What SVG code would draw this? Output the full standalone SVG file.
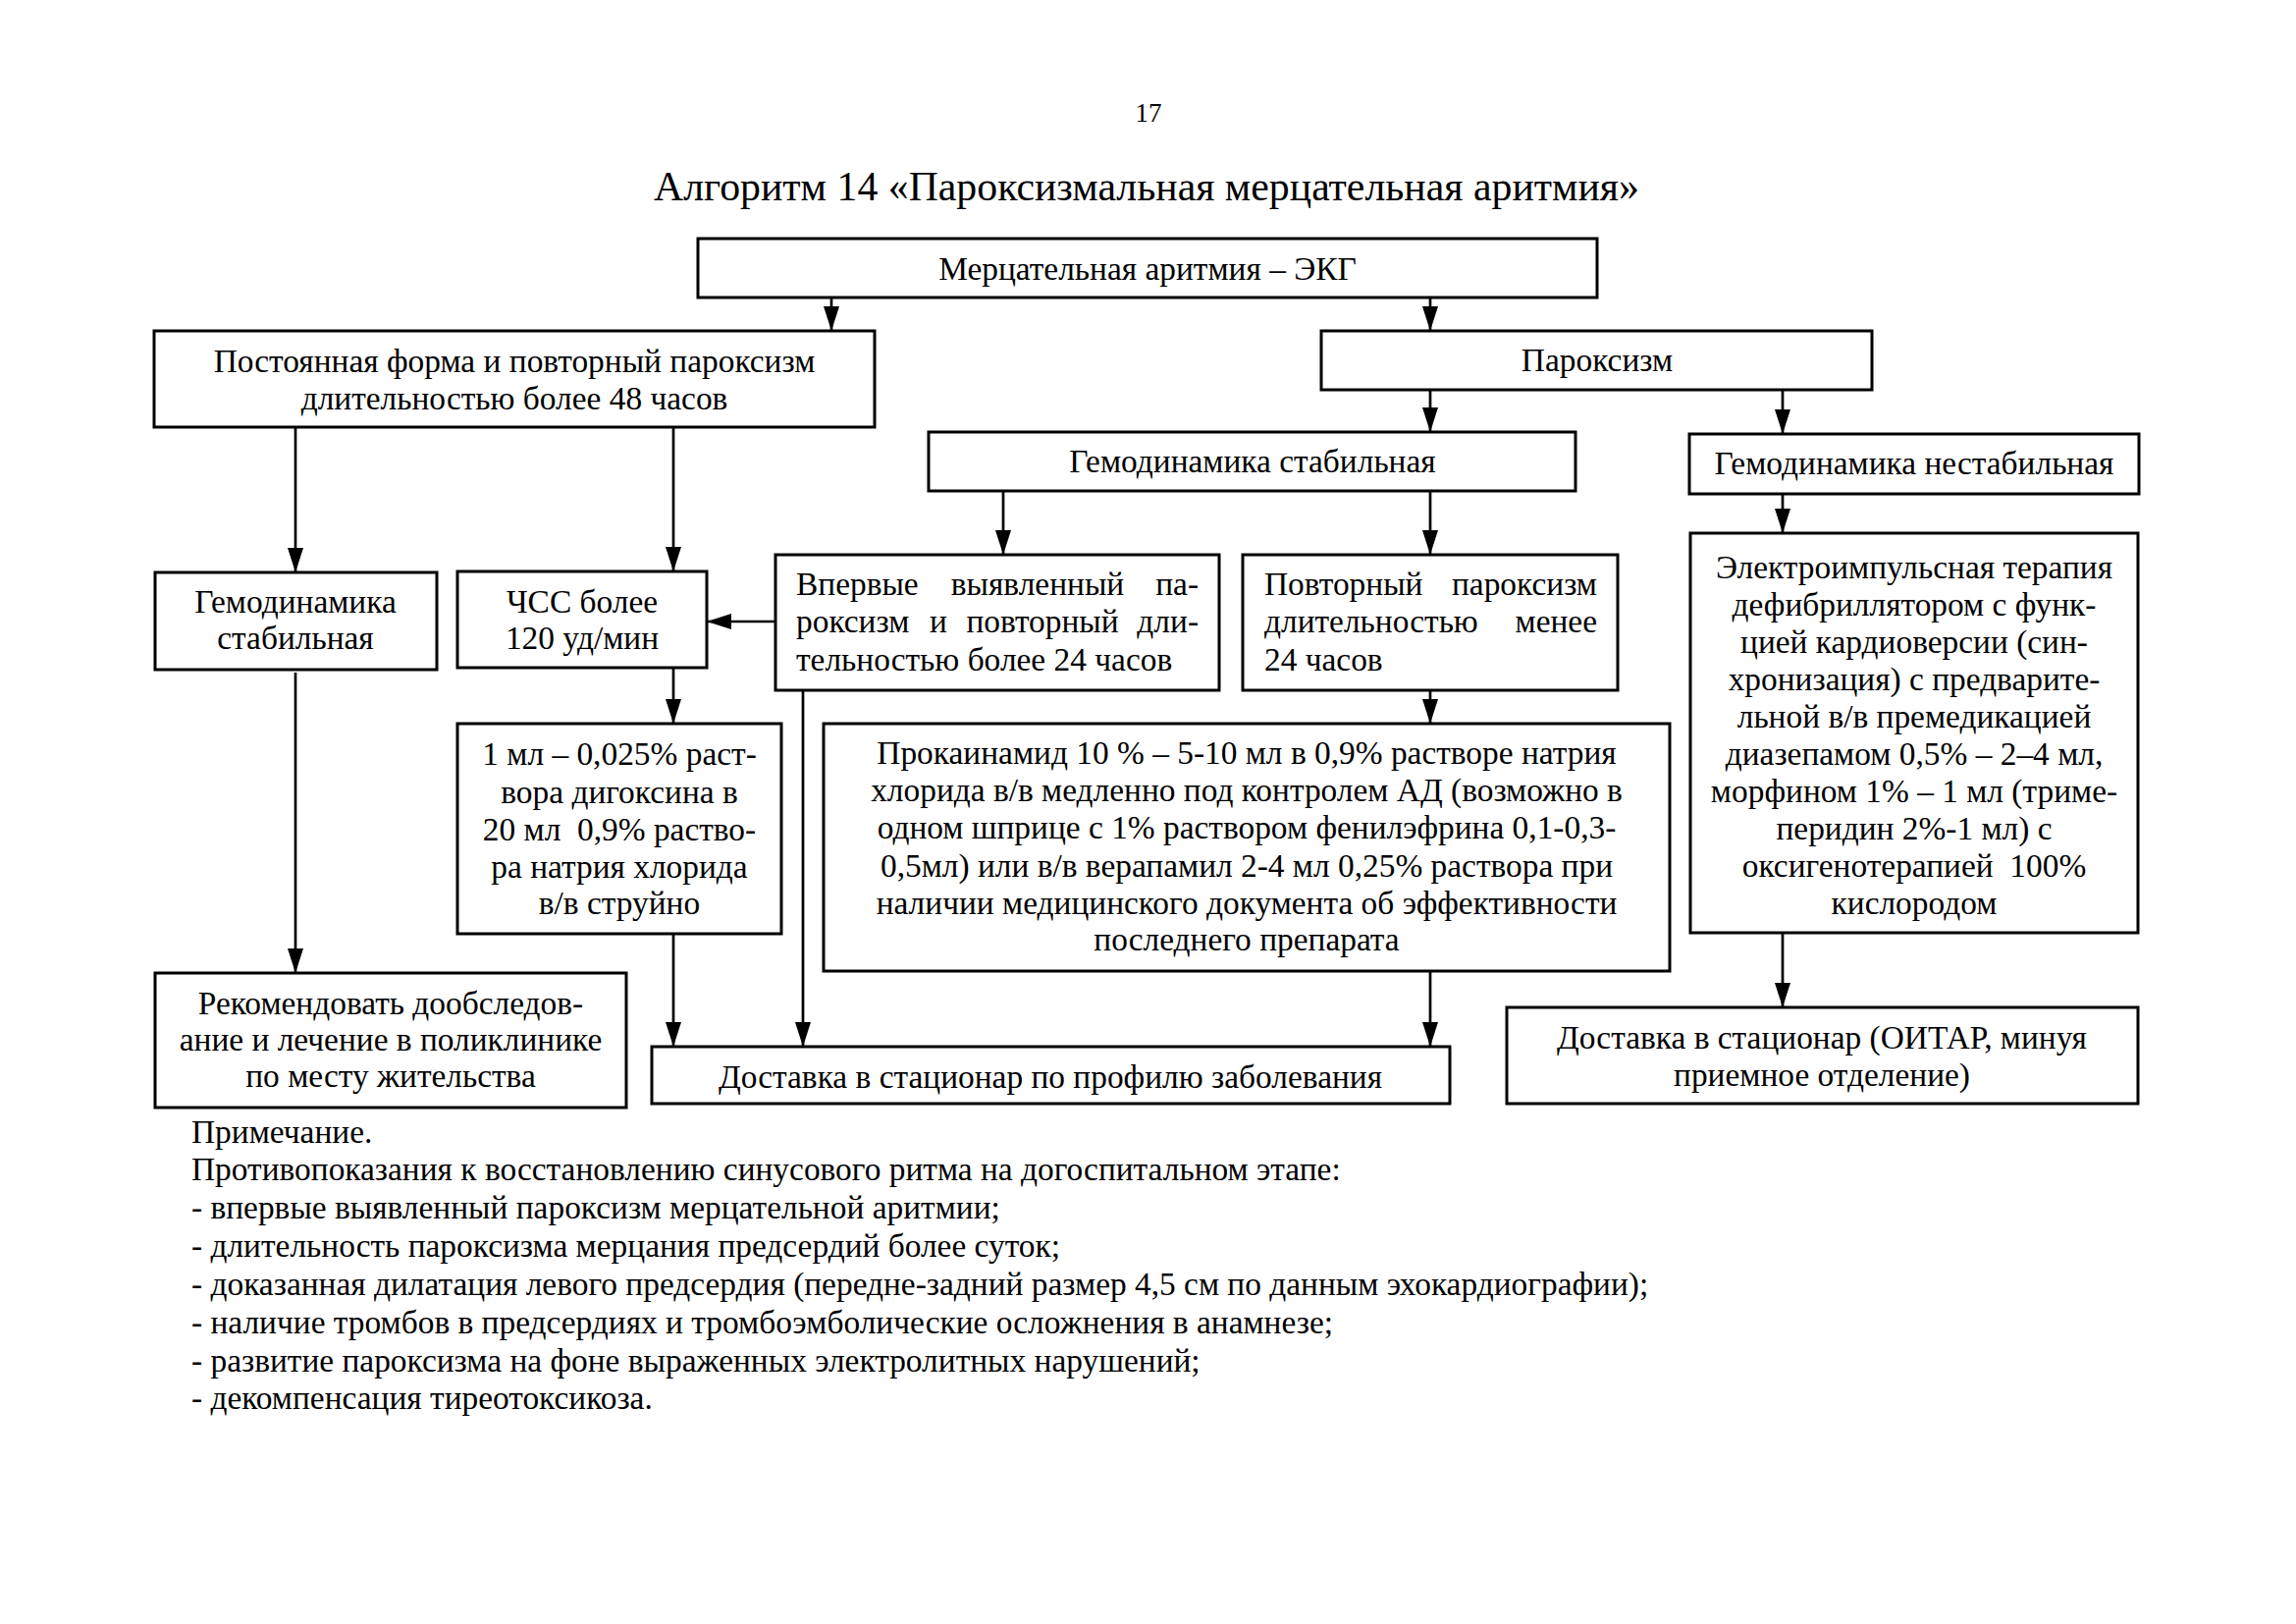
<svg xmlns="http://www.w3.org/2000/svg" width="2339" height="1654" viewBox="0 0 2339 1654">
<style>
text{font-family:"Liberation Serif","Times New Roman",serif;font-size:33.4px;fill:#000}
.c{text-anchor:middle}
.e{text-anchor:end}
.box{fill:#fff;stroke:#000;stroke-width:3}
.ln{fill:none;stroke:#000;stroke-width:2.7}
</style>
<defs>
<marker id="ah" markerUnits="userSpaceOnUse" markerWidth="26" markerHeight="16" refX="25" refY="8" orient="auto">
<path d="M0,0 L25,8 L0,16 Z" fill="#000"/>
</marker>
</defs>
<rect width="2339" height="1654" fill="#fff"/>
<text x="1170" y="124" class="c" style="font-size:27px">17</text>
<text x="1168" y="204" class="c" style="font-size:41.8px">Алгоритм 14 «Пароксизмальная мерцательная аритмия»</text>

<g id="connectors">
<path class="ln" marker-end="url(#ah)" d="M847 303 V337"/>
<path class="ln" marker-end="url(#ah)" d="M1457 303 V337"/>
<path class="ln" marker-end="url(#ah)" d="M301 435 V583"/>
<path class="ln" marker-end="url(#ah)" d="M686 435 V582"/>
<path class="ln" marker-end="url(#ah)" d="M1457 397 V440"/>
<path class="ln" marker-end="url(#ah)" d="M1816 397 V442"/>
<path class="ln" marker-end="url(#ah)" d="M1022 500 V565"/>
<path class="ln" marker-end="url(#ah)" d="M1457 500 V565"/>
<path class="ln" marker-end="url(#ah)" d="M1816 503 V543"/>
<path class="ln" marker-end="url(#ah)" d="M790 633 H720"/>
<path class="ln" marker-end="url(#ah)" d="M686 680 V737"/>
<path class="ln" marker-end="url(#ah)" d="M1457 703 V737"/>
<path class="ln" marker-end="url(#ah)" d="M301 685 V991"/>
<path class="ln" marker-end="url(#ah)" d="M686 951 V1066"/>
<path class="ln" marker-end="url(#ah)" d="M818 703 V1066"/>
<path class="ln" marker-end="url(#ah)" d="M1457 989 V1066"/>
<path class="ln" marker-end="url(#ah)" d="M1816 950 V1026"/>
</g>

<g id="n-ecg">
<rect class="box" x="711" y="243" width="916" height="60"/>
<text x="1169" y="285" class="c">Мерцательная аритмия – ЭКГ</text>
</g>
<g id="n-permanent">
<rect class="box" x="157" y="337" width="734" height="98"/>
<text x="524" y="379" class="c">Постоянная форма и повторный пароксизм</text>
<text x="524" y="417" class="c">длительностью более 48 часов</text>
</g>
<g id="n-paroxysm">
<rect class="box" x="1346" y="337" width="561" height="60"/>
<text x="1627" y="378" class="c">Пароксизм</text>
</g>
<g id="n-stable">
<rect class="box" x="946" y="440" width="659" height="60"/>
<text x="1276" y="481" class="c">Гемодинамика стабильная</text>
</g>
<g id="n-unstable">
<rect class="box" x="1721" y="442" width="458" height="61"/>
<text x="1950" y="483" class="c">Гемодинамика нестабильная</text>
</g>
<g id="n-stable-left">
<rect class="box" x="158" y="583" width="287" height="99"/>
<text x="301" y="624" class="c">Гемодинамика</text>
<text x="301" y="661" class="c">стабильная</text>
</g>
<g id="n-hr">
<rect class="box" x="466" y="582" width="254" height="98"/>
<text x="593" y="624" class="c">ЧСС более</text>
<text x="593" y="661" class="c">120 уд/мин</text>
</g>
<g id="n-first">
<rect class="box" x="790" y="565" width="452" height="138"/>
<text y="606"><tspan x="811">Впервые</tspan><tspan x="1057" class="c">выявленный</tspan><tspan x="1221" class="e">па-</tspan></text>
<text y="644"><tspan x="811">роксизм</tspan><tspan x="956" class="c">и</tspan><tspan x="1062" class="c">повторный</tspan><tspan x="1221" class="e">дли-</tspan></text>
<text x="811" y="683">тельностью более 24 часов</text>
</g>
<g id="n-repeat">
<rect class="box" x="1266" y="565" width="382" height="138"/>
<text y="606"><tspan x="1288">Повторный</tspan><tspan x="1627" class="e">пароксизм</tspan></text>
<text y="644"><tspan x="1288">длительностью</tspan><tspan x="1627" class="e">менее</tspan></text>
<text x="1288" y="683">24 часов</text>
</g>
<g id="n-eit">
<rect class="box" x="1722" y="543" width="456" height="407"/>
<text x="1950" y="589" class="c">Электроимпульсная терапия</text>
<text x="1950" y="627" class="c">дефибриллятором с функ-</text>
<text x="1950" y="665" class="c">цией кардиоверсии (син-</text>
<text x="1950" y="703" class="c">хронизация) с предварите-</text>
<text x="1950" y="741" class="c">льной в/в премедикацией</text>
<text x="1950" y="779" class="c">диазепамом 0,5% – 2–4 мл,</text>
<text x="1950" y="817" class="c">морфином 1% – 1 мл (триме-</text>
<text x="1950" y="855" class="c">перидин 2%-1 мл) с</text>
<text x="1950" y="893" class="c" xml:space="preserve">оксигенотерапией  100%</text>
<text x="1950" y="931" class="c">кислородом</text>
</g>
<g id="n-digoxin">
<rect class="box" x="466" y="737" width="330" height="214"/>
<text x="631" y="779" class="c">1 мл – 0,025% раст-</text>
<text x="631" y="818" class="c">вора дигоксина в</text>
<text x="631" y="856" class="c" xml:space="preserve">20 мл  0,9% раство-</text>
<text x="631" y="894" class="c">ра натрия хлорида</text>
<text x="631" y="931" class="c">в/в струйно</text>
</g>
<g id="n-procainamide">
<rect class="box" x="839" y="737" width="862" height="252"/>
<text x="1270" y="778" class="c">Прокаинамид 10 % – 5-10 мл в 0,9% растворе натрия</text>
<text x="1270" y="816" class="c">хлорида в/в медленно под контролем АД (возможно в</text>
<text x="1270" y="854" class="c">одном шприце с 1% раствором фенилэфрина 0,1-0,3-</text>
<text x="1270" y="893" class="c">0,5мл) или в/в верапамил 2-4 мл 0,25% раствора при</text>
<text x="1270" y="931" class="c">наличии медицинского документа об эффективности</text>
<text x="1270" y="968" class="c">последнего препарата</text>
</g>
<g id="n-recommend">
<rect class="box" x="158" y="991" width="480" height="137"/>
<text x="398" y="1033" class="c">Рекомендовать дообследов-</text>
<text x="398" y="1070" class="c">ание и лечение в поликлинике</text>
<text x="398" y="1107" class="c">по месту жительства</text>
</g>
<g id="n-delivery">
<rect class="box" x="664" y="1066" width="813" height="58"/>
<text x="1070" y="1108" class="c">Доставка в стационар по профилю заболевания</text>
</g>
<g id="n-delivery-icu">
<rect class="box" x="1535" y="1026" width="643" height="98"/>
<text x="1856" y="1068" class="c">Доставка в стационар (ОИТАР, минуя</text>
<text x="1856" y="1106" class="c">приемное отделение)</text>
</g>

<g id="note">
<text x="195" y="1164">Примечание.</text>
<text x="195" y="1202">Противопоказания к восстановлению синусового ритма на догоспитальном этапе:</text>
<text x="195" y="1241">- впервые выявленный пароксизм мерцательной аритмии;</text>
<text x="195" y="1280">- длительность пароксизма мерцания предсердий более суток;</text>
<text x="195" y="1319">- доказанная дилатация левого предсердия (передне-задний размер 4,5 см по данным эхокардиографии);</text>
<text x="195" y="1358">- наличие тромбов в предсердиях и тромбоэмболические осложнения в анамнезе;</text>
<text x="195" y="1397">- развитие пароксизма на фоне выраженных электролитных нарушений;</text>
<text x="195" y="1435">- декомпенсация тиреотоксикоза.</text>
</g>
</svg>
